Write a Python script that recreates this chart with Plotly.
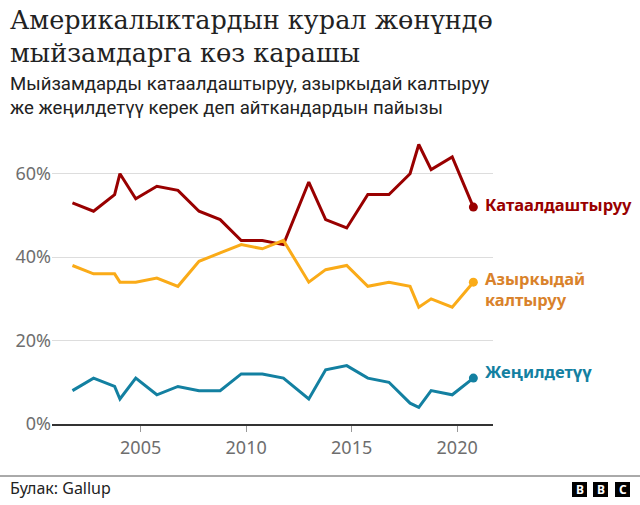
import plotly.graph_objects as go

# ---- data ----
dates = ["2001-10-08", "2002-10-08", "2003-10-08", "2004-01-08", "2004-10-08",
         "2005-10-08", "2006-10-08", "2007-10-08", "2008-10-08", "2009-10-08",
         "2010-10-08", "2011-10-08", "2012-12-20", "2013-10-08", "2014-10-08",
         "2015-10-08", "2016-10-08", "2017-10-08", "2018-03-08", "2018-10-08",
         "2019-10-08", "2020-10-08"]
stricter = [53, 51, 55, 60, 54, 57, 56, 51, 49, 44, 44, 43, 58, 49, 47, 55, 55, 60, 67, 61, 64, 52]
kept_same = [38, 36, 36, 34, 34, 35, 33, 39, 41, 43, 42, 44, 34, 37, 38, 33, 34, 33, 28, 30, 28, 34]
less_strict = [8, 11, 9, 6, 11, 7, 9, 8, 8, 12, 12, 11, 6, 13, 14, 11, 10, 5, 4, 8, 7, 11]

series_names = ["Катаалдаштыруу", "Азыркыдай<br>калтыруу", "Жеңилдетүү"]
x_tick_vals = ["2005-01-01", "2010-01-01", "2015-01-01", "2020-01-01"]
x_tick_text = ["2005", "2010", "2015", "2020"]
y_tick_vals = [0, 20, 40, 60]
y_tick_text = ["0%", "20%", "40%", "60%"]

title_text = "Америкалыктардын курал жөнүндө<br>мыйзамдарга көз карашы"
subtitle_text = "Мыйзамдарды катаалдаштыруу, азыркыдай калтыруу<br>же жеңилдетүү керек деп айткандардын пайызы"
source_text = "Булак: Gallup"

line_colors = ["#990000", "#FAAB18", "#1380A1"]
label_colors = ["#990000", "#D9822B", "#1380A1"]
label_shift = [3, -7, 7]

W, H = 640, 505
L, R, T, B = 52, 147, 132, 81
pw, ph = W - L - R, H - T - B

def px(x):
    return (x - L) / pw

def py(y):
    return (H - B - y) / ph

fig = go.Figure()
all_series = [stricter, kept_same, less_strict]
for vals, col in zip(all_series, line_colors):
    fig.add_trace(go.Scatter(x=dates, y=vals, mode="lines",
                             line=dict(color=col, width=3), hoverinfo="skip",
                             showlegend=False))
    fig.add_trace(go.Scatter(x=[dates[-1]], y=[vals[-1]], mode="markers",
                             marker=dict(color=col, size=9), hoverinfo="skip",
                             showlegend=False))

annotations = []
for vals, name, col, sh in zip(all_series, series_names, label_colors, label_shift):
    annotations.append(dict(x=dates[-1], y=vals[-1], xref="x", yref="y",
                            text="<b>" + name + "</b>", showarrow=False,
                            xanchor="left", yanchor="middle", align="left",
                            xshift=10, yshift=sh,
                            font=dict(family="Noto Sans", size=16.5, color=col)))

annotations.append(dict(x=px(8), y=py(3), xref="paper", yref="paper",
                        text=title_text, showarrow=False, xanchor="left", yanchor="top",
                        align="left",
                        font=dict(family="DejaVu Serif", size=25.5, color="#222222")))
annotations.append(dict(x=px(8), y=py(71), xref="paper", yref="paper",
                        text=subtitle_text, showarrow=False, xanchor="left", yanchor="top",
                        align="left",
                        font=dict(family="Roboto", size=18.6, color="#222222")))
annotations.append(dict(x=px(8), y=py(488), xref="paper", yref="paper",
                        text=source_text, showarrow=False, xanchor="left", yanchor="middle",
                        align="left",
                        font=dict(family="Noto Sans", size=16, color="#222222")))

shapes = [dict(type="line", xref="paper", yref="paper", x0=px(0), x1=px(640),
               y0=py(476), y1=py(476), line=dict(color="#555555", width=1))]
for bx, letter in zip([572, 593, 615], ["B", "B", "C"]):
    shapes.append(dict(type="rect", xref="paper", yref="paper",
                       x0=px(bx), x1=px(bx + 15), y0=py(497), y1=py(482),
                       fillcolor="#000000", line=dict(width=0)))
    annotations.append(dict(x=px(bx + 7.5), y=py(489.5), xref="paper", yref="paper",
                            text="<b>" + letter + "</b>", showarrow=False,
                            xanchor="center", yanchor="middle",
                            font=dict(family="Noto Sans", size=12, color="#ffffff")))

fig.update_layout(
    width=W, height=H,
    margin=dict(l=L, r=R, t=T, b=B),
    plot_bgcolor="#ffffff", paper_bgcolor="#ffffff",
    annotations=annotations, shapes=shapes,
    xaxis=dict(type="date", range=["2000-10-19", "2021-09-13"],
               tickvals=x_tick_vals, ticktext=x_tick_text,
               showgrid=False, zeroline=False,
               showline=True, linecolor="#333333", linewidth=2,
               ticks="outside", ticklen=6, tickcolor="#999999", tickwidth=1,
               tickfont=dict(family="Noto Sans", size=18, color="#6e6e6e")),
    yaxis=dict(range=[0, 70], tickvals=y_tick_vals, ticktext=y_tick_text,
               showgrid=True, gridcolor="#dddddd", gridwidth=1, zeroline=False,
               showline=False, ticks="",
               tickfont=dict(family="Noto Sans", size=18, color="#6e6e6e")),
)

fig.write_html("out.html")
